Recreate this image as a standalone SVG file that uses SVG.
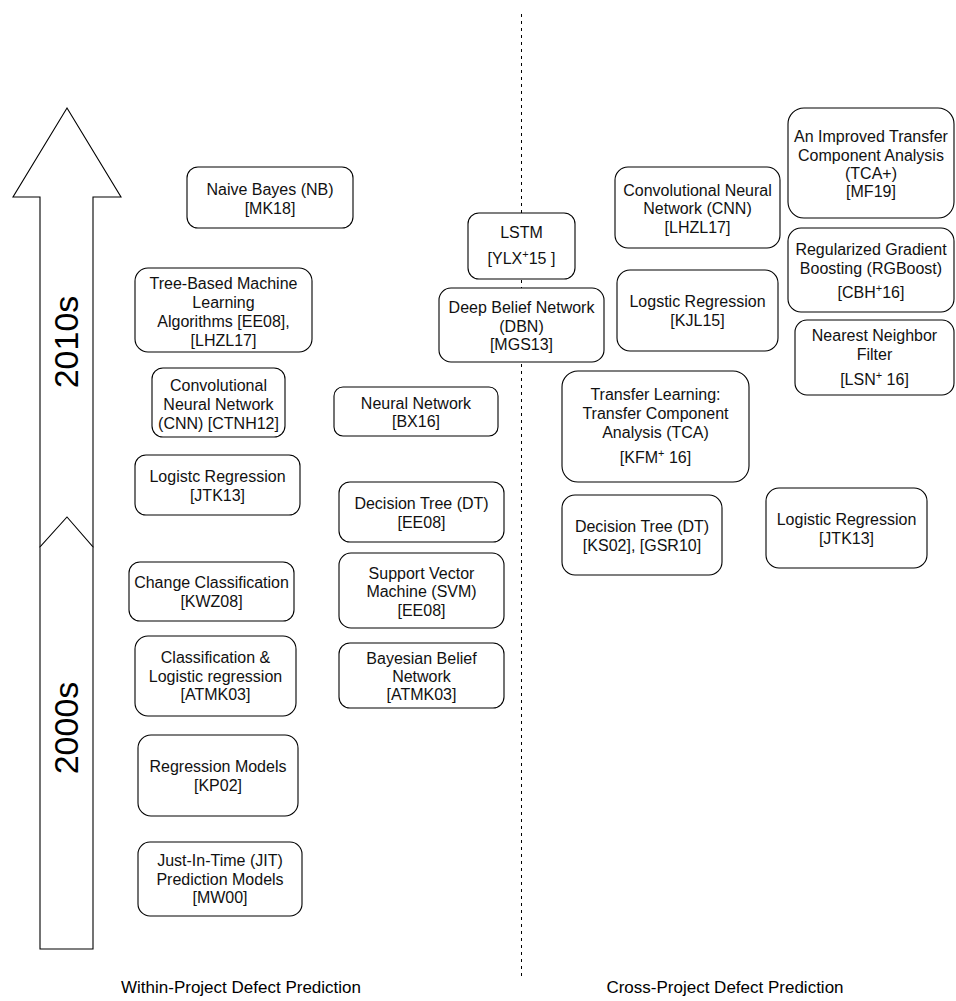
<svg xmlns="http://www.w3.org/2000/svg" width="956" height="1001" viewBox="0 0 956 1001">
<style>
.box{fill:#fff;stroke:#000;stroke-width:1.1}
.t{font-family:"Liberation Sans",Arial,Helvetica,sans-serif;font-size:16px;fill:#111;text-anchor:middle}
.sup{font-size:11px}
.big{font-family:"Liberation Sans",Arial,Helvetica,sans-serif;font-size:34px;fill:#000;text-anchor:middle}
.lab{font-family:"Liberation Sans",Arial,Helvetica,sans-serif;font-size:17px;fill:#000;text-anchor:middle}
.arrow{fill:#fff;stroke:#000;stroke-width:1.1}
.sep{fill:none;stroke:#000;stroke-width:1;stroke-dasharray:3 4}
</style>
<rect width="956" height="1001" fill="#fff"/>
<g id="connectors">
<line class="sep" x1="521.5" y1="14" x2="521.5" y2="980"/>
</g>
<g id="arrow-2010s">
<polygon class="arrow" points="67,108 121,197 93,197 93,547 40,547 40,197 13,197"/>
</g>
<g id="arrow-2000s">
<polygon class="arrow" points="67,517 93,547 93,949 40,949 40,547"/>
</g>
<text class="big" transform="translate(78,342) rotate(-90)">2010s</text>
<text class="big" transform="translate(78,728) rotate(-90)">2000s</text>

<g id="n-nb"><rect class="box" x="187" y="167" width="166" height="61" rx="11"/>
<text class="t" x="270" y="195">Naive Bayes (NB)</text><text class="t" x="270" y="214">[MK18]</text></g>
<g id="n-tree"><rect class="box" x="135" y="268" width="177" height="84" rx="13"/>
<text class="t" x="223.5" y="289">Tree-Based Machine</text><text class="t" x="223.5" y="308">Learning</text><text class="t" x="223.5" y="327">Algorithms [EE08],</text><text class="t" x="223.5" y="346">[LHZL17]</text></g>
<g id="n-cnn1"><rect class="box" x="152" y="368" width="133" height="69" rx="11"/>
<text class="t" x="218.5" y="391">Convolutional</text><text class="t" x="218.5" y="410">Neural Network</text><text class="t" x="218.5" y="429">(CNN) [CTNH12]</text></g>
<g id="n-lr1"><rect class="box" x="135" y="455" width="165" height="60" rx="11"/>
<text class="t" x="217.5" y="482">Logistc Regression</text><text class="t" x="217.5" y="501">[JTK13]</text></g>
<g id="n-cc"><rect class="box" x="129" y="562" width="165" height="59" rx="11"/>
<text class="t" x="211.5" y="588">Change Classification</text><text class="t" x="211.5" y="606.5">[KWZ08]</text></g>
<g id="n-clr"><rect class="box" x="135" y="636" width="161" height="80" rx="13"/>
<text class="t" x="215.5" y="663">Classification &amp;</text><text class="t" x="215.5" y="681.5">Logistic regression</text><text class="t" x="215.5" y="700">[ATMK03]</text></g>
<g id="n-rm"><rect class="box" x="138" y="735" width="160" height="81" rx="13"/>
<text class="t" x="218" y="772">Regression Models</text><text class="t" x="218" y="790.5">[KP02]</text></g>
<g id="n-jit"><rect class="box" x="138" y="842" width="164" height="74" rx="12"/>
<text class="t" x="220" y="866">Just-In-Time (JIT)</text><text class="t" x="220" y="884.5">Prediction Models</text><text class="t" x="220" y="903">[MW00]</text></g>

<g id="n-nn"><rect class="box" x="334" y="387" width="164" height="49" rx="9"/>
<text class="t" x="416" y="409">Neural Network</text><text class="t" x="416" y="427">[BX16]</text></g>
<g id="n-dt1"><rect class="box" x="339" y="482" width="165" height="60" rx="11"/>
<text class="t" x="421.5" y="508.5">Decision Tree (DT)</text><text class="t" x="421.5" y="527.5">[EE08]</text></g>
<g id="n-svm"><rect class="box" x="339" y="553" width="165" height="75" rx="12"/>
<text class="t" x="421.5" y="578.5">Support Vector</text><text class="t" x="421.5" y="597">Machine (SVM)</text><text class="t" x="421.5" y="615.5">[EE08]</text></g>
<g id="n-bbn"><rect class="box" x="339" y="643" width="165" height="65" rx="11"/>
<text class="t" x="421.5" y="664">Bayesian Belief</text><text class="t" x="421.5" y="682">Network</text><text class="t" x="421.5" y="700">[ATMK03]</text></g>
<g id="n-lstm"><rect class="box" x="468" y="213" width="107" height="66" rx="11"/>
<text class="t" x="521.5" y="238">LSTM</text><text class="t" x="521.5" y="264">[YLX<tspan class="sup" dy="-6">+</tspan><tspan dy="6">15 ]</tspan></text></g>
<g id="n-dbn"><rect class="box" x="439" y="288" width="165" height="74" rx="12"/>
<text class="t" x="521.5" y="313">Deep Belief Network</text><text class="t" x="521.5" y="331.5">(DBN)</text><text class="t" x="521.5" y="350">[MGS13]</text></g>

<g id="n-cnn2"><rect class="box" x="615" y="167" width="165" height="81" rx="13"/>
<text class="t" x="697.5" y="195.5">Convolutional Neural</text><text class="t" x="697.5" y="214">Network (CNN)</text><text class="t" x="697.5" y="232.5">[LHZL17]</text></g>
<g id="n-lr2"><rect class="box" x="617" y="270" width="161" height="81" rx="13"/>
<text class="t" x="697.5" y="307">Logstic Regression</text><text class="t" x="697.5" y="326">[KJL15]</text></g>
<g id="n-tcap"><rect class="box" x="788" y="108" width="166" height="110" rx="16"/>
<text class="t" x="871" y="142">An Improved Transfer</text><text class="t" x="871" y="160.5">Component Analysis</text><text class="t" x="871" y="179">(TCA+)</text><text class="t" x="871" y="197">[MF19]</text></g>
<g id="n-rgb"><rect class="box" x="788" y="228" width="166" height="84" rx="13"/>
<text class="t" x="871" y="255">Regularized Gradient</text><text class="t" x="871" y="273.5">Boosting (RGBoost)</text><text class="t" x="871" y="298">[CBH<tspan class="sup" dy="-6">+</tspan><tspan dy="6">16]</tspan></text></g>
<g id="n-nnf"><rect class="box" x="795" y="320" width="159" height="75" rx="12"/>
<text class="t" x="874.5" y="341">Nearest Neighbor</text><text class="t" x="874.5" y="360">Filter</text><text class="t" x="874.5" y="385">[LSN<tspan class="sup" dy="-6">+</tspan><tspan dy="6"> 16]</tspan></text></g>
<g id="n-tca"><rect class="box" x="562" y="371" width="187" height="111" rx="16"/>
<text class="t" x="655.5" y="400">Transfer Learning:</text><text class="t" x="655.5" y="419">Transfer Component</text><text class="t" x="655.5" y="438">Analysis (TCA)</text><text class="t" x="655.5" y="463">[KFM<tspan class="sup" dy="-6">+</tspan><tspan dy="6"> 16]</tspan></text></g>
<g id="n-dt2"><rect class="box" x="562" y="495" width="160" height="80" rx="13"/>
<text class="t" x="642" y="532">Decision Tree (DT)</text><text class="t" x="642" y="550.5">[KS02], [GSR10]</text></g>
<g id="n-lr3"><rect class="box" x="766" y="488" width="161" height="80" rx="13"/>
<text class="t" x="846.5" y="525">Logistic Regression</text><text class="t" x="846.5" y="543.5">[JTK13]</text></g>

<text class="lab" x="241" y="993">Within-Project Defect Prediction</text>
<text class="lab" x="725" y="993">Cross-Project Defect Prediction</text>
</svg>
